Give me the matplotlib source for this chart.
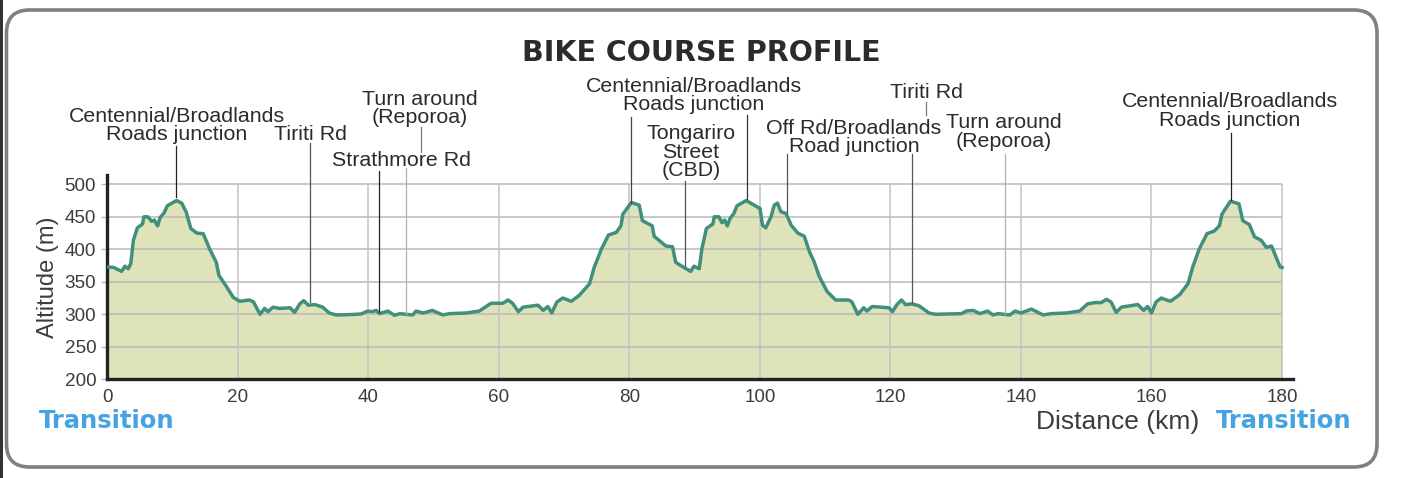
"""Bike course altitude profile."""

import matplotlib

matplotlib.use("Agg")
import matplotlib.pyplot as plt
from matplotlib.patches import FancyBboxPatch, Rectangle

WIDTH, HEIGHT = 1418, 478

distance_km = [
    0, 1, 2.2, 2.7, 3.2, 3.6, 4, 4.6, 5.4, 5.6, 6.2, 6.8, 7.2, 7.7, 8.1, 8.7, 9.2, 9.9, 10.6, 11.4,
    12.1, 12.8, 13.7, 14.7, 15.7, 16.7, 17.1, 18.3, 19.3, 20.3, 21.8, 22.4, 23.4, 24.1, 24.6, 25.4,
    26.4, 28, 28.7, 29.5, 30.1, 30.8, 31.8, 33, 34, 35.1, 37.1, 38.9, 39.9, 40.6, 41.2, 41.7, 43, 44,
    44.8, 46.8, 47.3, 48.4, 49.8, 51.4, 52.4, 55, 57, 58.8, 60.6, 61.4, 62.1, 63, 63.7, 66, 66.8,
    67.5, 68.1, 68.9, 69.8, 71.1, 72.3, 73.9, 74.6, 75.7, 76.8, 78, 78.7, 79, 80.3, 81.5, 82, 83.5,
    83.8, 85.6, 86.6, 87.1, 88.2, 89.4, 89.9, 90.7, 91.1, 91.8, 92.8, 93, 93.7, 94.2, 94.6, 95, 95.4,
    96, 96.5, 97.9, 99.1, 100, 100.4, 100.9, 101.7, 102.2, 102.7, 103.2, 104, 104.8, 105.8, 106.8,
    107.6, 108.3, 109.1, 110.3, 111.6, 113.6, 114.1, 115, 115.9, 116.4, 117.2, 119.8, 120.3, 121,
    121.7, 122.3, 123.3, 124.4, 125.9, 126.9, 130.9, 131.6, 132.7, 133.7, 134.9, 135.7, 136.5, 138.3,
    139.1, 140, 141.6, 143.4, 144.6, 146.9, 149, 150.2, 151.3, 152.3, 153.1, 153.8, 154.6, 155.4,
    157.9, 158.8, 159.4, 160, 160.7, 161.5, 162.9, 164.3, 165.6, 166.3, 167.3, 168.5, 169.6, 170.4,
    170.8, 172.1, 173.4, 174, 175, 175.8, 176.8, 177.6, 178.4, 179.1, 179.7, 180,
]
altitude_m = [
    373, 372, 366, 374, 370, 378, 414, 433, 439, 450, 450, 443, 445, 436, 449, 456, 467, 471, 475, 471,
    457, 432, 425, 424, 400, 380, 360, 342, 326, 320, 322, 319, 300, 309, 304, 311,
    309, 310, 303, 316, 321, 314, 315, 311, 302, 299, 299.5, 300.5, 305, 304, 306, 301, 305, 298.5,
    301, 299, 305, 302, 306, 299, 301, 302, 305, 317, 317, 322, 317, 304, 311, 314, 306,
    312, 302, 319, 325, 320, 329, 347, 372, 400, 422, 426, 436, 454, 472, 468, 444, 436,
    420, 405, 404, 380, 373, 366, 374, 370, 400, 432, 439, 450, 450, 441, 445, 436, 447,
    455, 467, 475, 468, 463, 437, 433, 450, 468, 471, 458, 455, 437, 425, 420,
    396, 381, 358, 335, 322, 322, 319, 300, 310, 305, 312, 310, 304, 315,
    322, 315, 316, 313, 302, 300, 301, 305, 306, 301, 305, 299, 301, 299,
    305, 302, 308, 299, 301, 302, 305, 316, 318, 318, 323, 319, 303, 311,
    315, 306, 312, 302, 319, 325, 320, 330, 347, 372, 400, 424, 428, 436,
    454, 474, 470, 444, 438, 419, 414, 403, 405, 388, 373, 372,
]

x_ticks = [0, 20, 40, 60, 80, 100, 120, 140, 160, 180]
y_ticks = [200, 250, 300, 350, 400, 450, 500]

# leader lines: km, altitude at the bottom end, altitude at the top end, colour
leader_km = [10.6, 31.1, 41.7, 45.8, 48.0, 80.3, 88.5, 98.0, 104.1, 123.3, 125.5, 137.5, 172.2]
leader_low = [480, 319, 304, 300, 550, 472, 374, 477, 456, 318, 606, 300, 476]
leader_high = [559, 563, 520, 525, 588, 603, 505, 606, 546, 546, 627, 546, 579]
leader_colors = [
    "#222222", "#555555", "#222222", "#b0b0b0", "#777777", "#444444", "#555555",
    "#333333", "#555555", "#555555", "#777777", "#b0b0b0", "#222222",
]

# text blocks: lines, centre x px, baseline of the first line in px
place_labels = [
    ["Centennial/Broadlands", "Roads junction"],
    ["Tiriti Rd"],
    ["Turn around", "(Reporoa)"],
    ["Strathmore Rd"],
    ["Centennial/Broadlands", "Roads junction"],
    ["Tongariro", "Street", "(CBD)"],
    ["Tiriti Rd"],
    ["Off Rd/Broadlands", "Road junction"],
    ["Turn around", "(Reporoa)"],
    ["Centennial/Broadlands", "Roads junction"],
]
label_x = [177, 311, 420, 402, 694, 691, 926, 854, 1004, 1230]
label_y = [121.7, 140, 105, 165.7, 91.7, 139.3, 98.3, 134, 128.3, 107.3]
LINE_STEP = 18.4

plt.rcParams["font.family"] = ["Liberation Sans", "DejaVu Sans"]

fig = plt.figure(figsize=(WIDTH / 100, HEIGHT / 100), dpi=100)

# overlay in pixel coordinates for the frame and free text
overlay = fig.add_axes([0, 0, 1, 1], zorder=0)
overlay.set_xlim(0, WIDTH)
overlay.set_ylim(HEIGHT, 0)
overlay.axis("off")
overlay.add_patch(Rectangle((0, 0), 2.6, HEIGHT, facecolor="#333333", linewidth=0))
overlay.add_patch(
    FancyBboxPatch(
        (6.5, 10), 1370.5, 457,
        boxstyle="round,pad=0,rounding_size=23",
        facecolor="white",
        edgecolor="#808080",
        linewidth=2.6,
    )
)

# axes reach past the data so the spines overshoot as in the original
x_per_km = (1282 - 107.3) / 180
y_per_m = (379.3 - 184.3) / 300
x_right = (1293 - 107.3) / x_per_km
y_top = 200 + (379.3 - 175) / y_per_m
ax = fig.add_axes(
    [107.3 / WIDTH, 1 - 379.3 / HEIGHT, (1293 - 107.3) / WIDTH, (379.3 - 175) / HEIGHT],
    zorder=1,
)
ax.patch.set_alpha(0)
ax.set_xlim(0, x_right)
ax.set_ylim(200, y_top)

ax.fill_between(distance_km, altitude_m, 200, color="#dfe3ba", linewidth=0, zorder=1)
ax.hlines(y_ticks[1:], 0, 180, color="#b9b9b9", linewidth=1.3, alpha=0.85, zorder=2)
ax.vlines(x_ticks[1:], 200, 500, color="#c2c2c2", linewidth=1.3, alpha=0.85, zorder=2)
ax.plot(distance_km, altitude_m, color="#41907c", linewidth=2.5, zorder=3, solid_joinstyle="round")

for km, low, high, color in zip(leader_km, leader_low, leader_high, leader_colors):
    ax.plot([km, km], [low, high], color=color, linewidth=0.9, zorder=4, clip_on=False)

for side in ("top", "right"):
    ax.spines[side].set_visible(False)
for side in ("left", "bottom"):
    ax.spines[side].set_linewidth(2.4)
    ax.spines[side].set_color("#222222")

ax.set_xticks(x_ticks)
ax.set_yticks(y_ticks)
ax.tick_params(axis="x", length=0, pad=7, labelsize=13.6, labelcolor="#3c3c3c")
ax.tick_params(axis="y", length=4, width=1, color="#b9b9b9", pad=4, labelsize=13.6, labelcolor="#3c3c3c")
ax.set_ylabel("Altitude (m)", fontsize=17, color="#3c3c3c", labelpad=4)

for lines, x, y in zip(place_labels, label_x, label_y):
    for row, line in enumerate(lines):
        overlay.text(x, y + row * LINE_STEP, line, ha="center", va="baseline", fontsize=15.4, color="#2b2b2b")

wide = ["DejaVu Sans"]
overlay.text(701, 53, "BIKE COURSE PROFILE", ha="center", va="center", fontsize=20.5, fontweight="bold", color="#2b2b2b", family=wide)
overlay.text(39, 421, "Transition", ha="left", va="center", fontsize=17.5, fontweight="bold", color="#45a3e0", family=wide)
overlay.text(1216, 421, "Transition", ha="left", va="center", fontsize=17.5, fontweight="bold", color="#45a3e0", family=wide)
overlay.text(1036, 422, "Distance (km)", ha="left", va="center", fontsize=19, color="#3c3c3c")

fig.savefig("out.png", dpi=100)
